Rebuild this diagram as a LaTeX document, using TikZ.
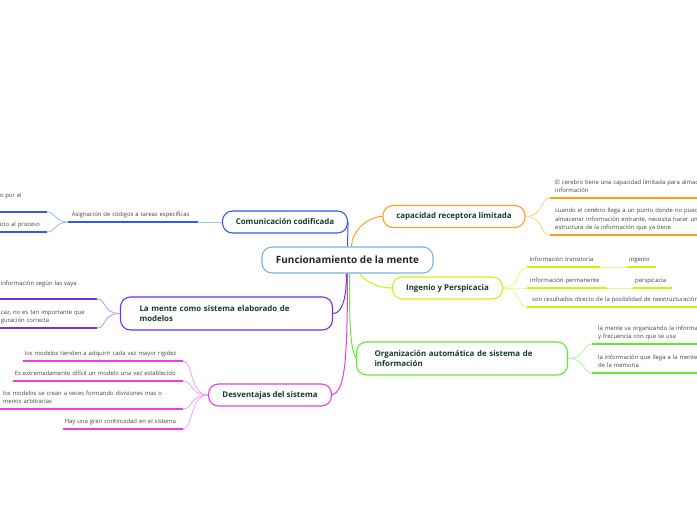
\documentclass[tikz,border=0pt]{standalone}
\usepackage{fontspec}
\setmainfont{Open Sans}
\usetikzlibrary{positioning}
\definecolor{Sky}{HTML}{74B6E8}
\definecolor{Royal}{HTML}{2F5DEB}
\definecolor{RoyalLt}{HTML}{A9BEF7}
\definecolor{Amber}{HTML}{F8A21E}
\definecolor{AmberLt}{HTML}{FCD28F}
\definecolor{Lime}{HTML}{D2F20C}
\definecolor{LimeLt}{HTML}{EBF98C}
\definecolor{Leaf}{HTML}{63EB30}
\definecolor{LeafLt}{HTML}{B8F69E}
\definecolor{Grape}{HTML}{6F30EC}
\definecolor{GrapeLt}{HTML}{B9A0F6}
\definecolor{Orchid}{HTML}{EA3CEB}
\definecolor{OrchidLt}{HTML}{F5A5F6}
\definecolor{Pine}{HTML}{143B2D}
\definecolor{Ink}{HTML}{444444}
\tikzset{
topic/.style={draw,line width=1.1pt,rounded corners=10pt,fill=white,text=Pine,
 font=\fontsize{7.9}{10.5}\selectfont\bfseries,minimum height=22pt,inner sep=0pt,align=center},
leaf/.style={inner xsep=5pt,inner ysep=3.5pt,text depth=1.5pt,text=Ink,
 font=\fontsize{5.9}{8.5}\selectfont,align=left},
two/.style={text depth=10pt},
three/.style={text depth=18.5pt},
leafR/.style={leaf,anchor=south west},
leafL/.style={leaf,anchor=south east},
ul/.style={line width=1.6pt},
lk/.style={line width=0.9pt},
br/.style={line width=1pt}}
\begin{document}
\begin{tikzpicture}[x=1pt,y=-1pt]
\fill[white](0,0)rectangle(697,520);
\useasboundingbox(0,0)rectangle(697,520);
\node[topic,draw=Sky,minimum width=171pt,minimum height=26pt,text=black!85,
 font=\fontsize{10}{12}\selectfont\bfseries](cen)at(347.5,260){Funcionamiento de la mente};
\node[topic,draw=Royal,minimum width=125pt](com)at(285,222){Comunicación codificada};
\node[topic,draw=Amber,minimum width=142pt](cap)at(454,216.5){capacidad receptora limitada};
\node[topic,draw=Lime,minimum width=110pt](ing)at(447.5,288){Ingenio y Perspicacia};
\node[topic,draw=Leaf,minimum height=33pt,text width=175pt,inner xsep=18pt,align=left](org)at(462,358.5){Organización automática de sistema de\\información};
\node[topic,draw=Grape,minimum height=33pt,text width=174pt,inner xsep=19pt,align=left](mod)at(226.5,313.5){La mente como sistema elaborado de\\modelos};
\node[topic,draw=Orchid,minimum width=123pt](des)at(270,395){Desventajas del sistema};
\node[leafR,two,text width=200pt](cap1)at(550,198){El cerebro tiene una capacidad limitada para almac\\información};
\node[leafR,three,text width=200pt](cap2)at(550,235){cuando el cerebro llega a un punto donde no pued\\almacenar información entrante, necesita hacer un\\estructura de la información que ya tiene};
\node[leafR,text width=68pt,inner xsep=2.5pt](ing1)at(527,267){información transitoria};
\node[leafR,text width=25pt,inner xsep=2pt](ing1a)at(627,267){ingenio};
\node[leafR,text width=74pt,inner xsep=3pt](ing2)at(527,288){información permanente};
\node[leafR,text width=35pt,inner xsep=2pt](ing2a)at(633,288){perspicacia};
\node[leafR,text width=200pt](ing3)at(527,307){son resultados directo de la posibilidad de reestructuración};
\node[leafR,two,text width=200pt,inner xsep=6pt](org1)at(592,344){la mente va organizando la informa\\y frecuencia con que se usa};
\node[leafR,two,text width=200pt,inner xsep=6pt](org2)at(592,373){la información que llega a la mente\\de la memoria};
\node[leafL,text width=122pt,inner xsep=4pt](asig)at(198,222){Asignación de códigos a tareas específicas};
\node[leafL,text width=44pt,inner xsep=3pt,text depth=10.5pt](cod1)at(47,212){o por el};
\node[leafL,text width=44pt,inner xsep=3pt](cod2)at(47,232){icio al proceso};
\node[leafL,two,text width=93pt,inner xsep=3pt,text depth=9.5pt](mod1)at(97,299){información según las vaya};
\node[leafL,two,text width=94pt,inner xsep=2pt](mod2)at(97,328){caz, no es tan importante que\\guración correcta};
\node[leafL,text width=156pt,inner xsep=2pt](des1)at(183,361){los modelos tienden a adquirir cada vez mayor rigidez};
\node[leafL,text width=166pt,inner xsep=2pt](des2)at(183,381){Es extremadamente difícil un modelo una vez establecido};
\node[leafL,two,text width=177pt,inner xsep=3pt](des3)at(183,409){los modelos se crean a veces formando divisiones mas o\\menos arbitrarias};
\node[leafL,text width=116pt,inner xsep=2pt](des4)at(183,429){Hay una gran continuidad en el sistema};
\foreach \n/\c in {cap1/Amber,cap2/Amber,ing1/Lime,ing1a/Lime,ing2/Lime,ing2a/Lime,ing3/Lime,
 org1/Leaf,org2/Leaf,asig/Royal,cod1/Royal,cod2/Royal,mod1/Grape,mod2/Grape,
 des1/Orchid,des2/Orchid,des3/Orchid,des4/Orchid}
 \draw[ul,\c](\n.south west)--(\n.south east);
\draw[br,Royal](cen.north)--(com.east);
\draw[br,Amber]([xshift=4pt]cen.north)..controls +(0,-15) and +(-15,0)..(cap.west);
\draw[br,Lime]([xshift=12pt]cen.south)..controls +(6,8) and +(-14,0)..(ing.west);
\draw[br,Leaf]([xshift=2pt]cen.south)..controls +(0,50) and +(-6,-12)..(org.west);
\draw[br,Grape]([xshift=-1pt]cen.south)..controls +(0,22) and +(10,0)..(mod.east);
\draw[br,Orchid](cen.south)..controls +(0,95) and +(12,-4)..(des.east);
\draw[lk,RoyalLt](com.west)--(asig.south east);
\foreach \n in {cod1,cod2}
 \draw[lk,RoyalLt](asig.south west)..controls +(-12,0) and +(8,0)..(\n.south east);
\foreach \n in {cap1,cap2}
 \draw[lk,AmberLt](cap.east)..controls +(18,0) and +(-10,0)..(\n.south west);
\foreach \n in {ing1,ing2,ing3}
 \draw[lk,LimeLt](ing.east)..controls +(18,0) and +(-10,0)..(\n.south west);
\draw[lk,LimeLt](ing1.south east)--(ing1a.south west);
\draw[lk,LimeLt](ing2.south east)--(ing2a.south west);
\foreach \n in {org1,org2}
 \draw[lk,LeafLt](org.east)..controls +(18,0) and +(-10,0)..(\n.south west);
\foreach \n in {mod1,mod2}
 \draw[lk,GrapeLt](mod.west)..controls +(-18,0) and +(10,0)..(\n.south east);
\foreach \n in {des1,des2,des3,des4}
 \draw[lk,OrchidLt](des.west)..controls +(-18,0) and +(10,0)..(\n.south east);
\end{tikzpicture}
\end{document}
